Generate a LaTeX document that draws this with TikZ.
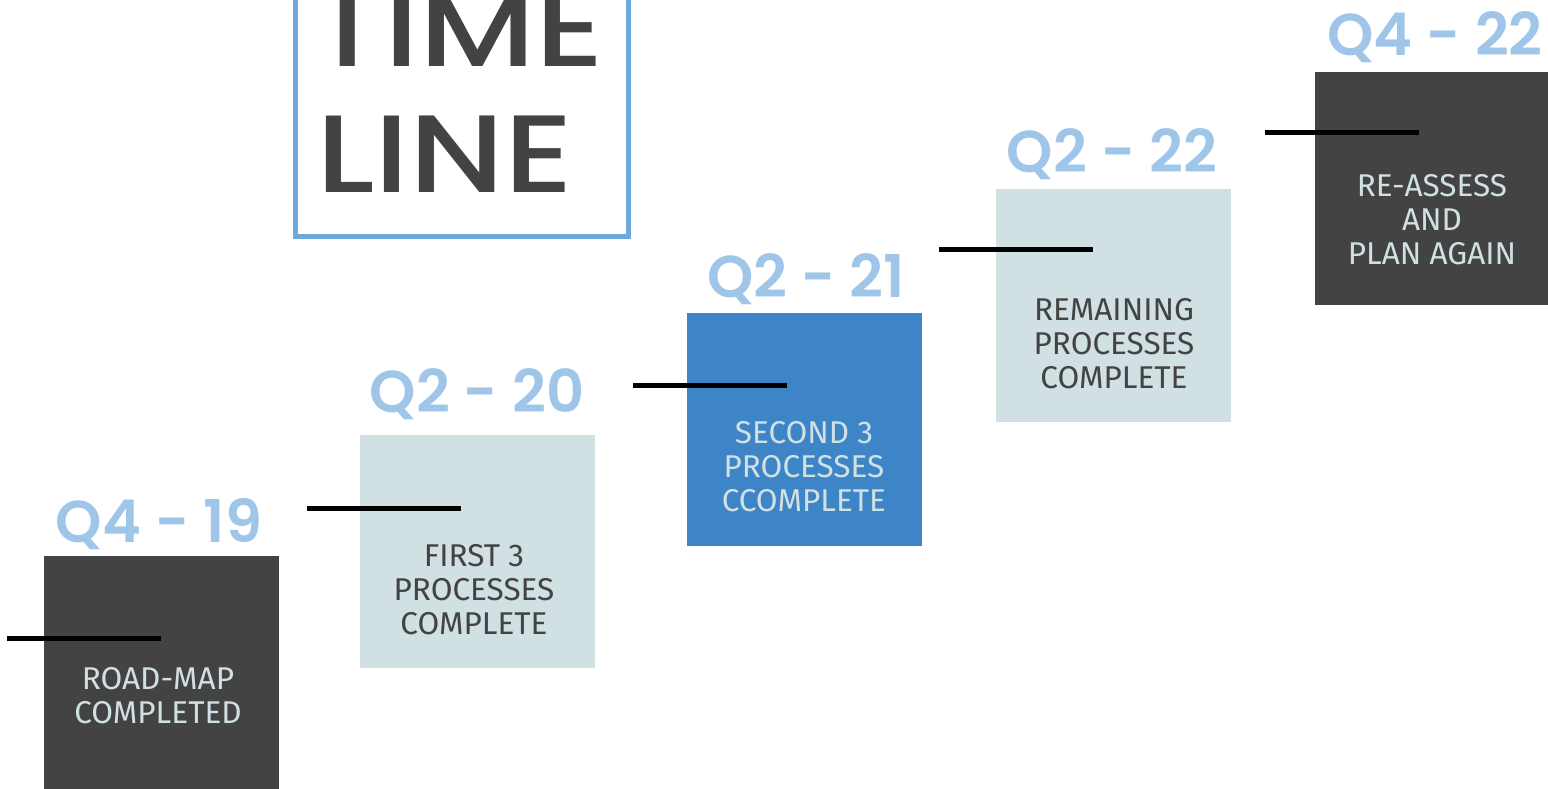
\documentclass[tikz,border=0pt]{standalone}
\usepackage{fontspec}
\setmainfont{Fira Sans}
\newfontfamily\titlefont{Poppins Medium}[FakeStretch=1.2]
\newfontfamily\quarterfont{Poppins SemiBold}
\definecolor{darkbox}{HTML}{434343}
\definecolor{lightbox}{HTML}{D0E0E3}
\definecolor{bluebox}{HTML}{3D85C6}
\definecolor{quarterblue}{HTML}{9FC5E8}
\definecolor{frameblue}{HTML}{6FA8DC}
\begin{document}
\begin{tikzpicture}[x=1pt,y=-1pt,
  stage/.style={minimum width=235pt,minimum height=233pt,inner sep=0pt,draw=none},
  darkstage/.style={stage,fill=darkbox},
  lightstage/.style={stage,fill=lightbox},
  bluestage/.style={stage,fill=bluebox},
  stagetext/.style={align=center,inner sep=0pt,font=\fontsize{31.5}{34}\selectfont},
  ontext/.style={stagetext,text=lightbox},
  offtext/.style={stagetext,text=darkbox},
  quarter/.style={anchor=base,inner sep=0pt,text=quarterblue,font=\quarterfont\fontsize{59}{59}\selectfont},
  titletext/.style={anchor=base west,inner sep=0pt,text=darkbox,font=\titlefont\fontsize{110}{110}\selectfont},
  bar/.style={line width=5pt,black}
]
\useasboundingbox (0,0) rectangle (1548,789);

% title frame
\draw[frameblue,line width=5pt] (295,-60) rectangle (628,236);
\node[titletext] (time) at (310,67) {TIME};
\node[titletext] (line) at (316,193) {LINE};

% stage boxes
\node[darkstage]  (s1) at (161.5,672.5) {};
\node[lightstage] (s2) at (477.5,551.5) {};
\node[bluestage]  (s3) at (804.5,429) {};
\node[lightstage] (s4) at (1113.5,305.5) {};
\node[darkstage]  (s5) at (1432.5,188.5) {};

% marker bars
\coordinate (b1a) at (7,638);    \coordinate (b1b) at (161,638);
\coordinate (b2a) at (307,508);  \coordinate (b2b) at (461,508);
\coordinate (b3a) at (633,385);  \coordinate (b3b) at (787,385);
\coordinate (b4a) at (939,249);  \coordinate (b4b) at (1093,249);
\coordinate (b5a) at (1265,133); \coordinate (b5b) at (1419,133);
\draw[bar] (b1a) -- (b1b);
\draw[bar] (b2a) -- (b2b);
\draw[bar] (b3a) -- (b3b);
\draw[bar] (b4a) -- (b4b);
\draw[bar] (b5a) -- (b5b);

% stage texts
\node[ontext]  (t1) at (158,696) {ROAD-MAP\\COMPLETED};
\node[offtext] (t2) at (474,590) {FIRST 3\\PROCESSES\\COMPLETE};
\node[ontext]  (t3) at (804,467) {SECOND 3\\PROCESSES\\CCOMPLETE};
\node[offtext] (t4) at (1114,344) {REMAINING\\PROCESSES\\COMPLETE};
\node[ontext]  (t5) at (1432,220) {RE-ASSESS\\AND\\PLAN AGAIN};

% quarter labels
\node[quarter] (q1) at (159,542) {Q4 - 19};
\node[quarter] (q2) at (477,412) {Q2 - 20};
\node[quarter] (q3) at (806,297) {Q2 - 21};
\node[quarter] (q4) at (1112,173) {Q2 - 22};
\node[quarter] (q5) at (1435,56) {Q4 - 22};
\end{tikzpicture}
\end{document}
